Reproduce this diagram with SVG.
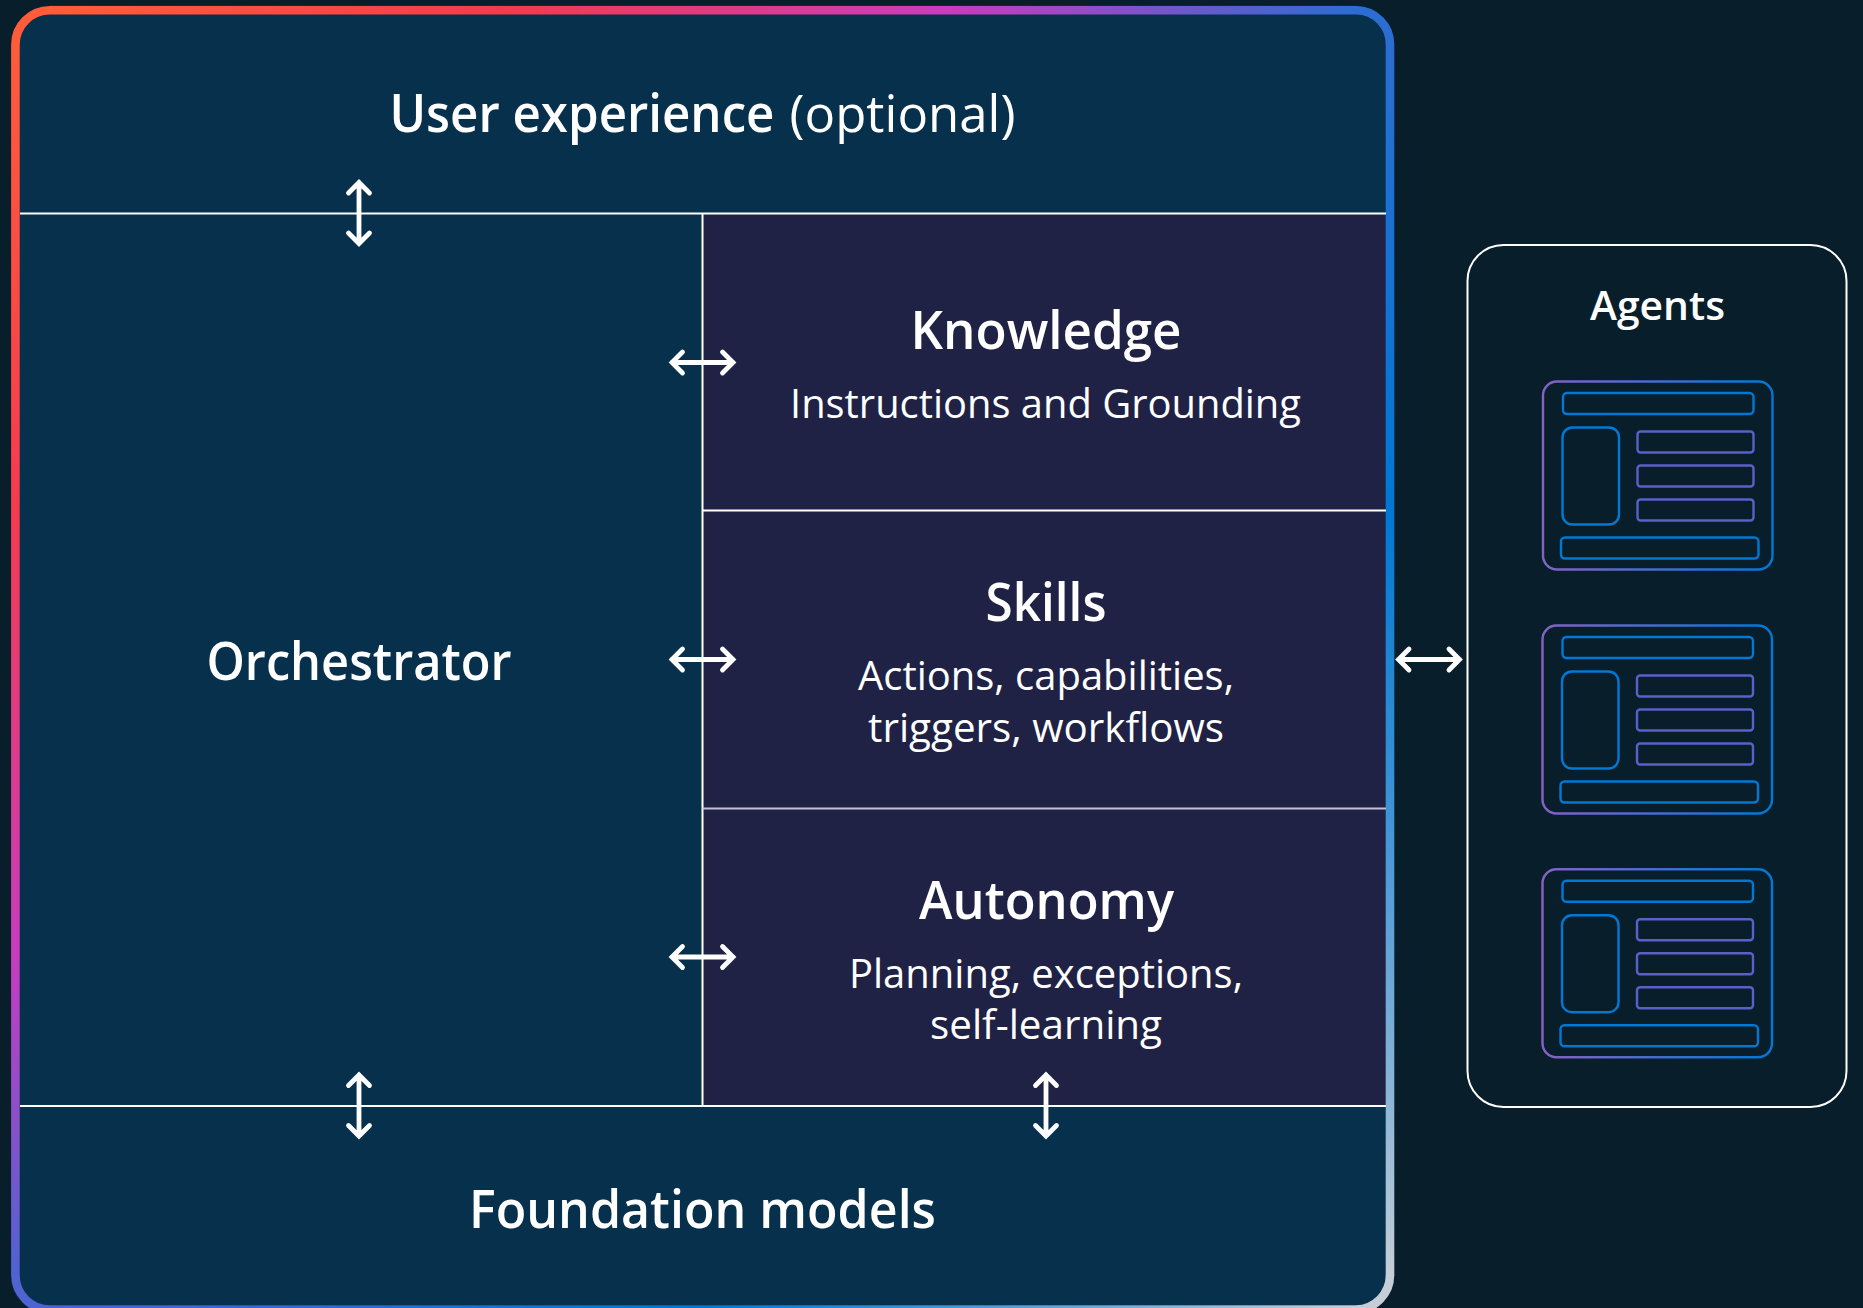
<svg xmlns="http://www.w3.org/2000/svg" xmlns:xlink="http://www.w3.org/1999/xlink" width="1863" height="1308" viewBox="0 0 1863 1308">
<style>
text{font-family:"Open Sans","Noto Sans","Liberation Sans",sans-serif;fill:#fff}
.h{font-size:52px;font-weight:600}
.b{font-size:40px;font-weight:400}
.a{font-size:40px;font-weight:600}
.o{fill:none;stroke-width:8.6}
.l{stroke:#fff;stroke-width:2;fill:none}
.c{fill:none;stroke:#fff;stroke-width:4.8;stroke-linecap:round;stroke-linejoin:miter}
.i{fill:none;stroke-width:2.4}
.ib{stroke:#0078d4}
.ip{stroke:#5b5fc7}
</style>
<defs>
<linearGradient id="gt" gradientUnits="userSpaceOnUse" x1="50" y1="0" x2="1356" y2="0"><stop offset="0" stop-color="#ff5c39"/><stop offset=".35" stop-color="#f43b4e"/><stop offset=".69" stop-color="#c83cbe"/><stop offset="1" stop-color="#2b6dd2"/></linearGradient>
<linearGradient id="gl" gradientUnits="userSpaceOnUse" x1="0" y1="44" x2="0" y2="1275"><stop offset="0" stop-color="#ff5c39"/><stop offset=".38" stop-color="#f43b4e"/><stop offset=".74" stop-color="#c83cbe"/><stop offset="1" stop-color="#4f63d2"/></linearGradient>
<linearGradient id="gr" gradientUnits="userSpaceOnUse" x1="0" y1="44" x2="0" y2="1275"><stop offset="0" stop-color="#2b6dd2"/><stop offset=".38" stop-color="#0078d4"/><stop offset=".62" stop-color="#3d93d6"/><stop offset=".85" stop-color="#8ab4d6"/><stop offset="1" stop-color="#c5ced6"/></linearGradient>
<linearGradient id="gb" gradientUnits="userSpaceOnUse" x1="50" y1="0" x2="1356" y2="0"><stop offset="0" stop-color="#4f63d2"/><stop offset=".5" stop-color="#0078d4"/><stop offset=".8" stop-color="#6ea9d8"/><stop offset="1" stop-color="#c5ced6"/></linearGradient>
<linearGradient id="gi" gradientUnits="userSpaceOnUse" x1="1542" y1="0" x2="1773" y2="0"><stop offset="0" stop-color="#8661c5"/><stop offset="1" stop-color="#0078d4"/></linearGradient>
<path id="av" d="M-10.5 -20L0 -30.5L10.5 -20M0 -30.5V30.5M-10.5 20L0 30.5L10.5 20"/>
<path id="ah" d="M-20 -10.5L-30.5 0L-20 10.5M-30.5 0H30.5M20 -10.5L30.5 0L20 10.5"/>
<g id="agentIcon">
<rect class="i" x="1543" y="381.5" width="229.5" height="188" rx="14" stroke="url(#gi)"/>
<rect class="i ib" x="1563" y="393" width="190.5" height="21" rx="4"/>
<rect class="i ib" x="1562.5" y="427.5" width="56.5" height="97" rx="10"/>
<rect class="i ip" x="1637.5" y="431.5" width="116" height="21" rx="3"/>
<rect class="i ip" x="1637.5" y="465.5" width="116" height="21" rx="3"/>
<rect class="i ip" x="1637.5" y="499.5" width="116" height="21" rx="3"/>
<rect class="i ib" x="1561" y="537.5" width="197.5" height="21" rx="4"/>
</g>
</defs>
<rect width="1863" height="1308" fill="#081e2b"/>
<g id="frame">
<rect x="15.4" y="10.2" width="1374.6" height="1299.4" rx="34" fill="#07304d"/>
<rect x="702.5" y="214" width="683.5" height="891" fill="#202245"/>
<path class="o" stroke="#ff5c39" d="M15.4 45A34.5 34.5 0 0 1 50 10.2"/>
<path class="o" stroke="#2b6dd2" d="M1356 10.2A34 34 0 0 1 1390 45"/>
<path class="o" stroke="#c5ced6" d="M1390 1275A34.5 34.5 0 0 1 1356 1309.6"/>
<path class="o" stroke="#4f63d2" d="M50 1309.6A34.5 34.5 0 0 1 15.4 1275"/>
<rect x="50" y="5.9" width="1306" height="8.6" fill="url(#gt)"/>
<rect x="50" y="1305.3" width="1306" height="8.6" fill="url(#gb)"/>
<rect x="11.1" y="44.5" width="8.6" height="1231" fill="url(#gl)"/>
<rect x="1385.7" y="44.5" width="8.6" height="1231" fill="url(#gr)"/>
<path class="l" d="M20 213.5H1386M20 1106H1386M702.5 213.5V1106M702.5 510.5H1386"/>
<path class="l" style="stroke:#c3bfd8" d="M702.5 808.5H1386"/>
</g>
<g id="user-experience"><text class="h" x="389.5" y="132" textLength="385" lengthAdjust="spacingAndGlyphs">User experience</text><text x="789.5" y="132" font-size="52" textLength="226" lengthAdjust="spacingAndGlyphs">(optional)</text></g>
<g id="orchestrator"><text class="h" x="206.5" y="680" textLength="305" lengthAdjust="spacingAndGlyphs">Orchestrator</text></g>
<g id="knowledge"><text class="h" x="910.5" y="349" textLength="271" lengthAdjust="spacingAndGlyphs">Knowledge</text><text class="b" x="790" y="418" textLength="511" lengthAdjust="spacingAndGlyphs">Instructions and Grounding</text></g>
<g id="skills"><text class="h" x="985.5" y="621" textLength="121" lengthAdjust="spacingAndGlyphs">Skills</text><text class="b" x="858" y="690" textLength="376" lengthAdjust="spacingAndGlyphs">Actions, capabilities,</text><text class="b" x="868" y="742" textLength="356" lengthAdjust="spacingAndGlyphs">triggers, workflows</text></g>
<g id="autonomy"><text class="h" x="919" y="919" textLength="255" lengthAdjust="spacingAndGlyphs">Autonomy</text><text class="b" x="849" y="988" textLength="394" lengthAdjust="spacingAndGlyphs">Planning, exceptions,</text><text class="b" x="930" y="1039" textLength="232" lengthAdjust="spacingAndGlyphs">self-learning</text></g>
<g id="foundation-models"><text class="h" x="469" y="1228" textLength="467" lengthAdjust="spacingAndGlyphs">Foundation models</text></g>
<g id="agents">
<rect x="1467.5" y="245" width="379" height="862" rx="36" fill="none" stroke="#fff" stroke-width="2"/>
<text class="a" x="1590" y="320" textLength="135" lengthAdjust="spacingAndGlyphs">Agents</text>
<use href="#agentIcon"/>
<use href="#agentIcon" transform="translate(-.5 244)"/>
<use href="#agentIcon" transform="translate(-.5 487.7)"/>
</g>
<g id="connectors">
<use class="c" href="#av" x="359" y="213"/>
<use class="c" href="#av" x="359" y="1105.5"/>
<use class="c" href="#av" x="1046" y="1105.5"/>
<use class="c" href="#ah" x="702.5" y="362.5"/>
<use class="c" href="#ah" x="702.5" y="659.5"/>
<use class="c" href="#ah" x="702.5" y="957"/>
<use class="c" href="#ah" x="1429" y="659.5"/>
</g>
</svg>
